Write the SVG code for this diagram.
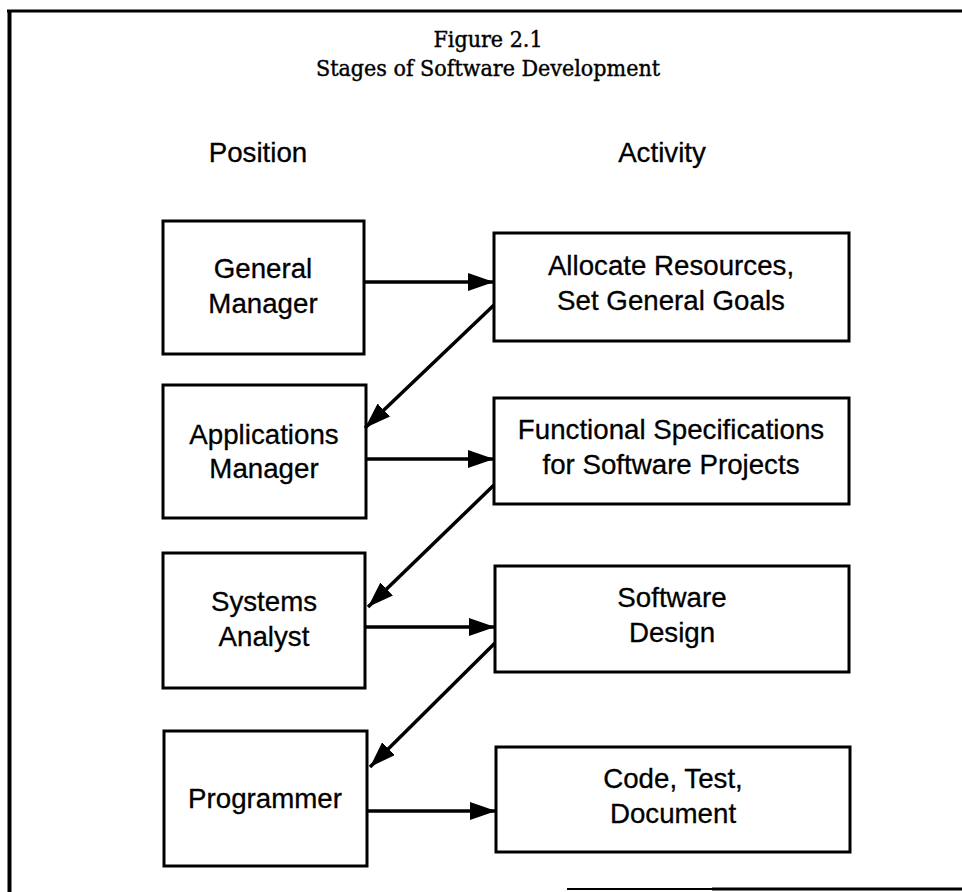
<svg xmlns="http://www.w3.org/2000/svg" width="962" height="892" viewBox="0 0 962 892">
<style>
.box{fill:#fff;stroke:#000;stroke-width:3}
.lbl{font-family:"Liberation Sans",Arial,sans-serif;font-size:27.7px;fill:#000;stroke:#000;stroke-width:0.3;text-anchor:middle}
.ttl{font-family:"DejaVu Serif","Liberation Serif",serif;font-stretch:condensed;font-size:23px;fill:#000;stroke:#000;stroke-width:0.4;text-anchor:middle}
.con{stroke:#000;stroke-width:3.5;fill:none}
.frame{stroke:#000;fill:none}
</style>
<defs>
<marker id="ah" viewBox="0 0 26 18" refX="26" refY="9" markerWidth="26" markerHeight="18" markerUnits="userSpaceOnUse" orient="auto">
<path d="M0,0 L26,9 L0,18 z" fill="#000"/>
</marker>
</defs>
<rect width="962" height="892" fill="#fff"/>
<g id="frame">
<line class="frame" x1="7" y1="11" x2="962" y2="11" stroke-width="3"/>
<line class="frame" x1="9.5" y1="12" x2="9.5" y2="892" stroke-width="4"/>
<line class="frame" x1="567" y1="889" x2="712" y2="889" stroke-width="2" stroke="#444"/>
<line class="frame" x1="712" y1="889" x2="962" y2="889" stroke-width="3"/>
</g>
<g id="title">
<text class="ttl" x="488" y="47">Figure 2.1</text>
<text class="ttl" x="488" y="76">Stages of Software Development</text>
</g>
<g id="headers">
<text class="lbl" x="258" y="162">Position</text>
<text class="lbl" x="662" y="162">Activity</text>
</g>
<g id="general-manager">
<rect class="box" x="163" y="221" width="201" height="133"/>
<text class="lbl" x="263" y="278">General</text>
<text class="lbl" x="263" y="313">Manager</text>
</g>
<g id="applications-manager">
<rect class="box" x="163" y="385" width="203" height="133"/>
<text class="lbl" x="264" y="444">Applications</text>
<text class="lbl" x="264" y="478">Manager</text>
</g>
<g id="systems-analyst">
<rect class="box" x="163" y="553" width="202" height="135"/>
<text class="lbl" x="264" y="611">Systems</text>
<text class="lbl" x="264" y="646">Analyst</text>
</g>
<g id="programmer">
<rect class="box" x="164" y="731" width="203" height="135"/>
<text class="lbl" x="265" y="808">Programmer</text>
</g>
<g id="allocate-resources">
<rect class="box" x="494" y="233" width="355" height="108"/>
<text class="lbl" x="671" y="275">Allocate Resources,</text>
<text class="lbl" x="671" y="310">Set General Goals</text>
</g>
<g id="functional-specifications">
<rect class="box" x="494" y="398" width="355" height="106"/>
<text class="lbl" x="671" y="439">Functional Specifications</text>
<text class="lbl" x="671" y="474">for Software Projects</text>
</g>
<g id="software-design">
<rect class="box" x="495" y="566" width="354" height="106"/>
<text class="lbl" x="672" y="607">Software</text>
<text class="lbl" x="672" y="642">Design</text>
</g>
<g id="code-test-document">
<rect class="box" x="496" y="747" width="354" height="105"/>
<text class="lbl" x="673" y="788">Code, Test,</text>
<text class="lbl" x="673" y="823">Document</text>
</g>
<g id="connectors">
<line class="con" x1="364" y1="282" x2="494" y2="282" marker-end="url(#ah)"/>
<line class="con" x1="366" y1="459" x2="494" y2="459" marker-end="url(#ah)"/>
<line class="con" x1="365" y1="627" x2="495" y2="627" marker-end="url(#ah)"/>
<line class="con" x1="367" y1="811" x2="496" y2="811" marker-end="url(#ah)"/>
<line class="con" x1="494" y1="305" x2="365" y2="428" marker-end="url(#ah)"/>
<line class="con" x1="494" y1="485" x2="368" y2="607" marker-end="url(#ah)"/>
<line class="con" x1="495" y1="643" x2="370" y2="767" marker-end="url(#ah)"/>
</g>
</svg>
